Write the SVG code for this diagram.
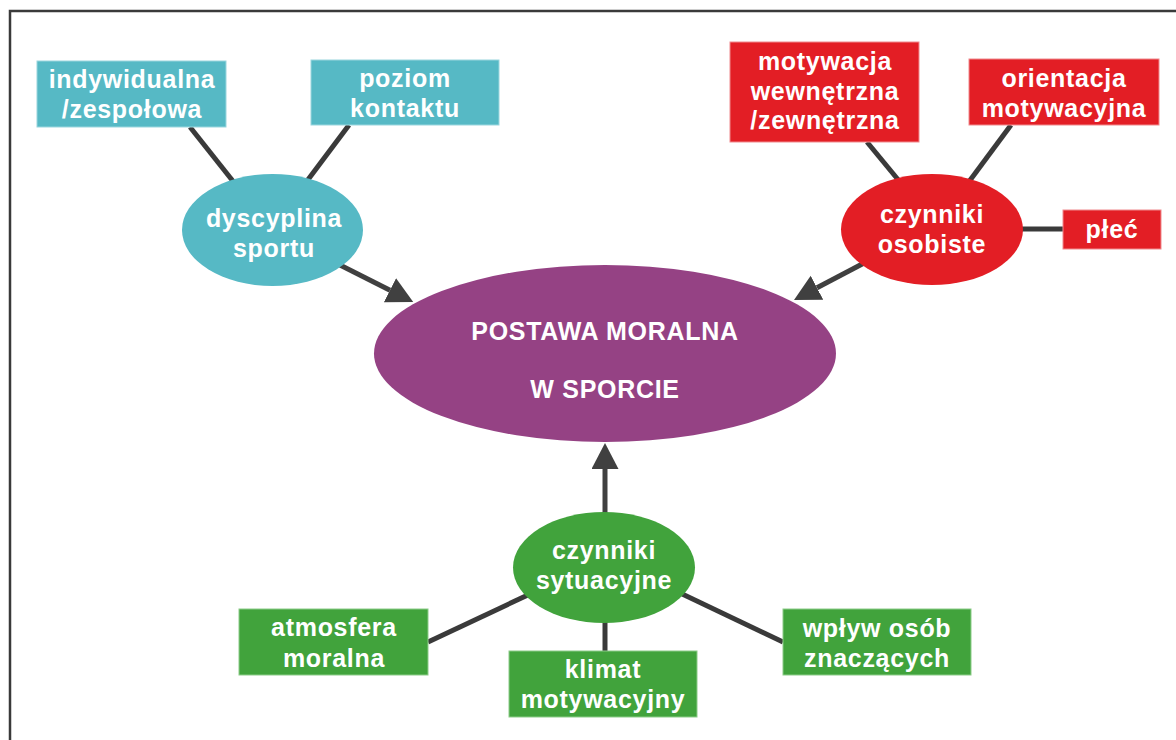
<svg xmlns="http://www.w3.org/2000/svg" width="1176" height="740" viewBox="0 0 1176 740">
  <style>
    .t { font-family: "Liberation Sans", Arial, sans-serif; font-weight: bold; font-size: 25px; fill: #ffffff; text-anchor: middle; letter-spacing: 0.7px; }
    .teal { fill: #56b9c5; }
    .tealbox { fill: #56b9c5; stroke: #9ad6de; stroke-width: 1; }
    .red { fill: #e31e25; }
    .redbox { fill: #e31e25; stroke: #f08a8e; stroke-width: 1; }
    .green { fill: #41a33c; }
    .greenbox { fill: #41a33c; stroke: #8ccc88; stroke-width: 1; }
    .purple { fill: #954284; }
    .link { stroke: #3a3a3a; stroke-width: 5; fill: none; }
    .arrow { stroke: #404040; stroke-width: 5; fill: none; marker-end: url(#ah); }
  </style>
  <defs>
    <marker id="ah" markerUnits="userSpaceOnUse" markerWidth="27" markerHeight="28" refX="0" refY="13.5" orient="auto" viewBox="0 0 27 28">
      <path d="M0,0 L26,13.5 L0,27 Z" fill="#404040"/>
    </marker>
  </defs>
  <rect x="0" y="0" width="1176" height="740" fill="#ffffff"/>
  <rect id="frame" x="10" y="11" width="1300" height="900" fill="none" stroke="#3a3a3a" stroke-width="2.5"/>

  <g id="connectors">
    <line class="link" x1="190" y1="127" x2="236" y2="185"/>
    <line class="link" x1="349" y1="125" x2="304" y2="185"/>
    <line class="link" x1="867" y1="142" x2="900" y2="182"/>
    <line class="link" x1="1011" y1="125" x2="968" y2="183"/>
    <line class="link" x1="1018" y1="229" x2="1063" y2="229"/>
    <line class="link" x1="428" y1="642" x2="530" y2="594"/>
    <line class="link" x1="678" y1="592" x2="783" y2="642"/>
    <line class="link" x1="605" y1="618" x2="605" y2="651"/>
    <line class="arrow" x1="336" y1="263" x2="390" y2="290.2"/>
    <line class="arrow" x1="866" y1="262" x2="817" y2="287.8"/>
    <line class="arrow" x1="605" y1="515" x2="605" y2="469"/>
  </g>

  <g id="node-postawa">
    <ellipse class="purple" cx="605" cy="353.5" rx="231" ry="88.5"/>
    <text class="t" x="605" y="340">POSTAWA MORALNA</text>
    <text class="t" x="605" y="398">W SPORCIE</text>
  </g>

  <g id="node-dyscyplina">
    <ellipse class="teal" cx="272.5" cy="230" rx="90.5" ry="56"/>
    <text class="t" x="274" y="227">dyscyplina</text>
    <text class="t" x="274" y="257">sportu</text>
  </g>
  <g id="node-indywidualna">
    <rect class="tealbox" x="37" y="61" width="189" height="66"/>
    <text class="t" x="132" y="88">indywidualna</text>
    <text class="t" x="132" y="118">/zespołowa</text>
  </g>
  <g id="node-poziom">
    <rect class="tealbox" x="311" y="60" width="188" height="65"/>
    <text class="t" x="405" y="87">poziom</text>
    <text class="t" x="405" y="117">kontaktu</text>
  </g>

  <g id="node-osobiste">
    <ellipse class="red" cx="932" cy="229.5" rx="91" ry="55.5"/>
    <text class="t" x="932" y="223">czynniki</text>
    <text class="t" x="932" y="253">osobiste</text>
  </g>
  <g id="node-motywacja">
    <rect class="redbox" x="730" y="42" width="189" height="100"/>
    <text class="t" x="825" y="70">motywacja</text>
    <text class="t" x="825" y="100">wewnętrzna</text>
    <text class="t" x="825" y="129">/zewnętrzna</text>
  </g>
  <g id="node-orientacja">
    <rect class="redbox" x="969" y="59" width="190" height="66"/>
    <text class="t" x="1064" y="87">orientacja</text>
    <text class="t" x="1064" y="117">motywacyjna</text>
  </g>
  <g id="node-plec">
    <rect class="redbox" x="1063" y="210" width="98" height="39"/>
    <text class="t" x="1112" y="238">płeć</text>
  </g>

  <g id="node-sytuacyjne">
    <ellipse class="green" cx="604" cy="567.5" rx="91" ry="55.5"/>
    <text class="t" x="604" y="559">czynniki</text>
    <text class="t" x="604" y="589">sytuacyjne</text>
  </g>
  <g id="node-atmosfera">
    <rect class="greenbox" x="239" y="609" width="189" height="66"/>
    <text class="t" x="334" y="636">atmosfera</text>
    <text class="t" x="334" y="667">moralna</text>
  </g>
  <g id="node-klimat">
    <rect class="greenbox" x="509" y="651" width="188" height="66"/>
    <text class="t" x="603" y="678">klimat</text>
    <text class="t" x="603" y="708">motywacyjny</text>
  </g>
  <g id="node-wplyw">
    <rect class="greenbox" x="783" y="609" width="188" height="66"/>
    <text class="t" x="877" y="637">wpływ osób</text>
    <text class="t" x="877" y="667">znaczących</text>
  </g>
</svg>
